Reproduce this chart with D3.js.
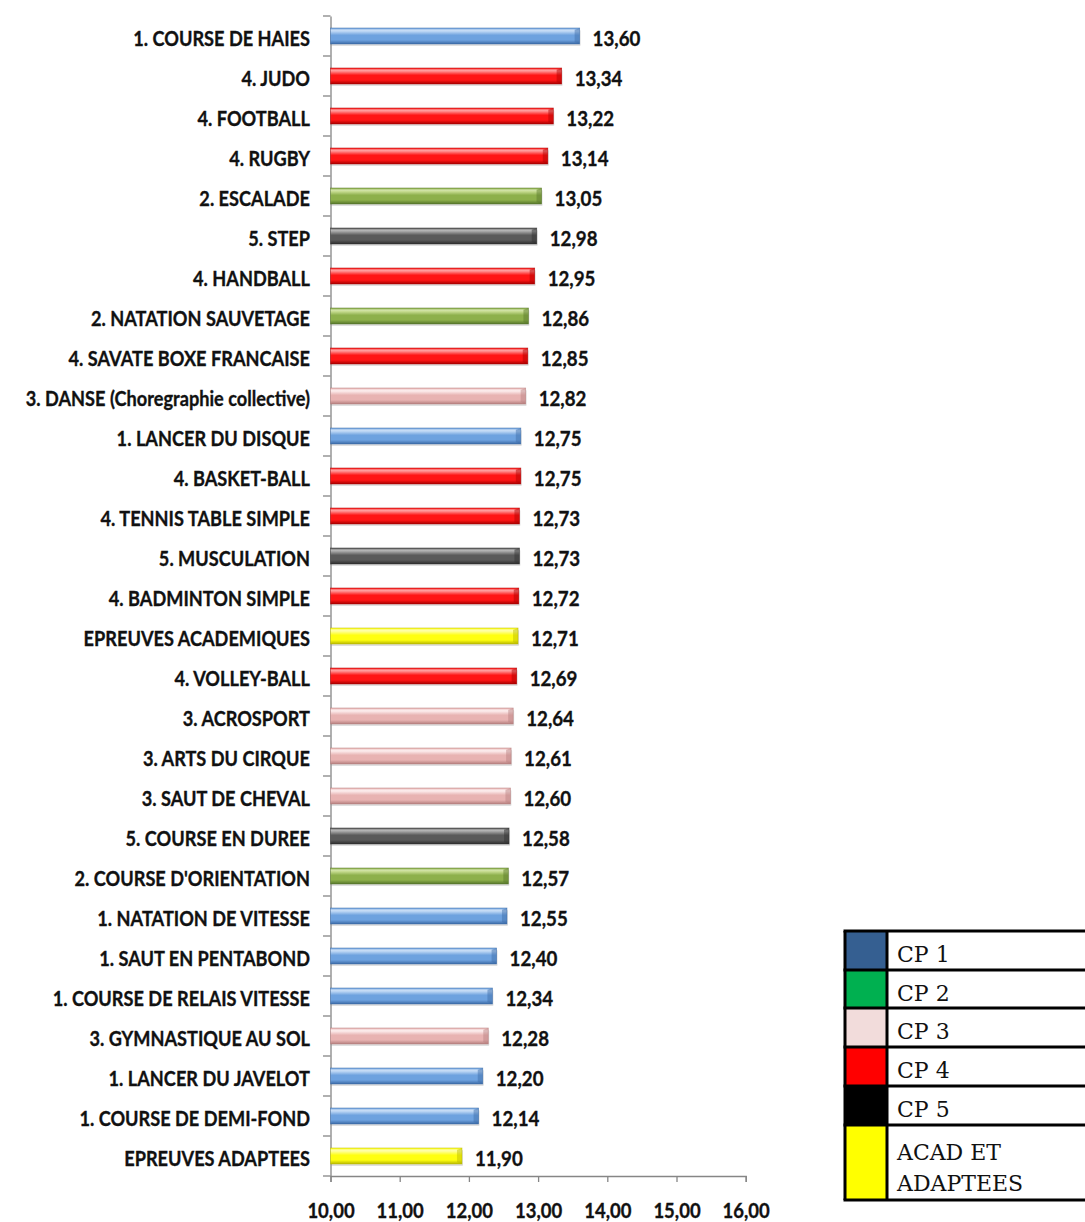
<!DOCTYPE html>
<html><head><meta charset="utf-8">
<script src="https://cdn.jsdelivr.net/npm/d3@7"></script>
<style>
html,body{margin:0;padding:0;background:#fff;}
svg{display:block;}
</style></head>
<body>
<script>
const categories = [
"1. COURSE DE HAIES","4. JUDO","4. FOOTBALL","4. RUGBY","2. ESCALADE","5. STEP","4. HANDBALL",
"2. NATATION SAUVETAGE","4. SAVATE BOXE FRANCAISE","3. DANSE (Choregraphie collective)",
"1. LANCER DU DISQUE","4. BASKET-BALL","4. TENNIS TABLE SIMPLE","5. MUSCULATION",
"4. BADMINTON SIMPLE","EPREUVES ACADEMIQUES","4. VOLLEY-BALL","3. ACROSPORT","3. ARTS DU CIRQUE",
"3. SAUT DE CHEVAL","5. COURSE EN DUREE","2. COURSE D'ORIENTATION","1. NATATION DE VITESSE",
"1. SAUT EN PENTABOND","1. COURSE DE RELAIS VITESSE","3. GYMNASTIQUE AU SOL","1. LANCER DU JAVELOT",
"1. COURSE DE DEMI-FOND","EPREUVES ADAPTEES"];
const values = [13.60,13.34,13.22,13.14,13.05,12.98,12.95,12.86,12.85,12.82,12.75,12.75,12.73,12.73,
12.72,12.71,12.69,12.64,12.61,12.60,12.58,12.57,12.55,12.40,12.34,12.28,12.20,12.14,11.90];
const groups = ["CP1","CP4","CP4","CP4","CP2","CP5","CP4","CP2","CP4","CP3","CP1","CP4","CP4","CP5",
"CP4","ACAD","CP4","CP3","CP3","CP3","CP5","CP2","CP1","CP1","CP1","CP3","CP1","CP1","ACAD"];
const xTicks = [10,11,12,13,14,15,16];
const legendLabels = [["CP 1"],["CP 2"],["CP 3"],["CP 4"],["CP 5"],["ACAD ET","ADAPTEES"]];
const legendColors = ["#355f91","#00b050","#f2dcdb","#ff0000","#000000","#ffff00"];

// bar gradient stops per group: [top highlight, middle, bottom]
const barShades = {
  CP1:["#c6dcf6","#6ea2df","#3b6aa6"],
  CP2:["#cfe29c","#8db04b","#56752a"],
  CP3:["#fdeeee","#e8b3b2","#b57f7e"],
  CP4:["#ff9a9a","#ff1515","#a80000"],
  CP5:["#b0b0b0","#5a5a5a","#2e2e2e"],
  ACAD:["#ffffa8","#ffff10","#b8b800"]
};

const W=1085,H=1222;
const svg=d3.select("body").append("svg").attr("width",W).attr("height",H);
const defs=svg.append("defs");
Object.entries(barShades).forEach(([k,c])=>{
  const g=defs.append("linearGradient").attr("id","g_"+k).attr("x1",0).attr("y1",0).attr("x2",0).attr("y2",1);
  g.append("stop").attr("offset","0%").attr("stop-color",c[1]);
  g.append("stop").attr("offset","18%").attr("stop-color",c[0]);
  g.append("stop").attr("offset","45%").attr("stop-color",c[1]);
  g.append("stop").attr("offset","75%").attr("stop-color",c[1]);
  g.append("stop").attr("offset","100%").attr("stop-color",c[2]);
});

const x=d3.scaleLinear().domain([10,16]).range([330.5,745.7]);
const y=d3.scaleBand().domain(categories).range([16,1176]).paddingInner(0).paddingOuter(0);
const bh=16;
const font="Lato, 'Open Sans', sans-serif";

function squeeze(sel,f){
  sel.each(function(){
    const w=this.getComputedTextLength();
    d3.select(this).attr("textLength",w*f).attr("lengthAdjust","spacingAndGlyphs");
  });
}

// axes
const ax=svg.append("g").attr("transform","translate(0,1176)")
  .call(d3.axisBottom(x).tickValues(xTicks).tickSize(6).tickFormat(d=>d3.format(".2f")(d).replace(".",",")));
ax.select(".domain").attr("stroke","#868686").attr("stroke-width",1.3);
ax.selectAll(".tick line").attr("stroke","#868686").attr("stroke-width",1.3);
ax.selectAll(".tick text").attr("y",42).attr("dy",0).attr("font-family",font).attr("font-weight","bold")
  .attr("font-size","21px").attr("fill","#111").attr("stroke","#111").attr("stroke-width",0.35);
squeeze(ax.selectAll(".tick text"),0.88);

const ay=svg.append("g").attr("transform","translate(330.5,0)")
  .call(d3.axisLeft(y).tickSize(0).tickFormat(""));
ay.select(".domain").attr("stroke","#868686").attr("stroke-width",1.3);
ay.selectAll(".tick").remove();
// tick marks at band boundaries
const bounds=categories.map(c=>y(c)).concat([y(categories[categories.length-1])+y.bandwidth()]);
svg.append("g").selectAll("line").data(bounds).join("line")
  .attr("x1",323).attr("x2",330.5).attr("y1",d=>d).attr("y2",d=>d)
  .attr("stroke","#868686").attr("stroke-width",1.3);

// bars
const bars=svg.append("g");
categories.forEach((c,i)=>{
  const cy=y(c)+y.bandwidth()/2;
  const x0=x(10), x1=x(values[i]);
  const sh=barShades[groups[i]];
  bars.append("rect").attr("x",x0+1).attr("y",cy-bh/2+2).attr("width",x1-x0).attr("height",bh)
    .attr("fill","#000").attr("opacity",0.12).attr("rx",1);
  bars.append("rect").attr("x",x0).attr("y",cy-bh/2).attr("width",x1-x0).attr("height",bh)
    .attr("fill","url(#g_"+groups[i]+")").attr("stroke",sh[2]).attr("stroke-width",0.8).attr("stroke-opacity",0.6);
  bars.append("path").attr("d",`M${x1-5},${cy-bh/2+2} L${x1},${cy-bh/2} L${x1},${cy+bh/2} L${x1-5},${cy+bh/2-2}Z`)
    .attr("fill",sh[2]).attr("opacity",0.45);
  bars.append("path").attr("d",`M${x0},${cy-bh/2+2} L${x1-5},${cy-bh/2+2}`).attr("stroke","#fff").attr("stroke-opacity",0.35).attr("stroke-width",1);
});

// category labels
const cl=svg.append("g").selectAll("text").data(categories).join("text")
  .attr("x",310).attr("y",d=>y(d)+y.bandwidth()/2+9.5)
  .attr("text-anchor","end").attr("font-family",font).attr("font-weight","bold").attr("font-size","21.5px")
  .attr("fill","#111").attr("stroke","#111").attr("stroke-width",0.35).text(d=>d);
squeeze(cl,0.845);

// value labels
const vl=svg.append("g").selectAll("text").data(values).join("text")
  .attr("x",d=>x(d)+13).attr("y",(d,i)=>y(categories[i])+y.bandwidth()/2+10)
  .attr("font-family",font).attr("font-weight","bold").attr("font-size","21.5px")
  .attr("fill","#111").attr("stroke","#111").attr("stroke-width",0.35).text(d=>d3.format(".2f")(d).replace(".",","));
squeeze(vl,0.87);

// legend table
const rowTops=[931,970,1008,1047,1086,1125,1200];
const lg=svg.append("g");
const lx0=845, lx1=887, lx2=1100;
legendColors.forEach((c,i)=>{
  lg.append("rect").attr("x",lx0).attr("y",rowTops[i]).attr("width",lx1-lx0).attr("height",rowTops[i+1]-rowTops[i]).attr("fill",c);
  lg.append("rect").attr("x",lx1).attr("y",rowTops[i]).attr("width",lx2-lx1).attr("height",rowTops[i+1]-rowTops[i]).attr("fill","#fff");
  legendLabels[i].forEach((t,j)=>{
    lg.append("text").attr("x",897).attr("y",rowTops[i]+31+j*31+(i===5?4:0))
      .attr("font-family","'DejaVu Serif', serif").attr("font-size","22px").attr("fill","#111").text(t);
  });
});
rowTops.forEach(t=>lg.append("line").attr("x1",lx0-1.5).attr("x2",lx2).attr("y1",t).attr("y2",t).attr("stroke","#000").attr("stroke-width",3));
[lx0,lx1].forEach(v=>lg.append("line").attr("x1",v).attr("x2",v).attr("y1",rowTops[0]).attr("y2",1200).attr("stroke","#000").attr("stroke-width",3));
</script>
</body></html>
